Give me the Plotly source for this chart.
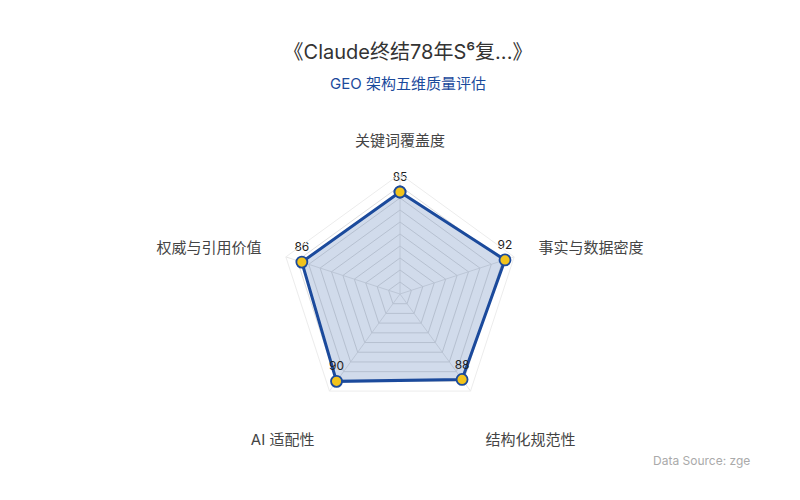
import plotly.graph_objects as go

# five quality dimensions (clockwise from top)
dimensions = ['关键词覆盖度', '事实与数据密度', '结构化规范性', 'AI 适配性', '权威与引用价值']
scores = [85, 92, 88, 90, 86]

title_text = '《Claude终结78年S⁶复...》'
subtitle_text = 'GEO 架构五维质量评估'
source_text = 'Data Source: zge'

BLUE = '#1b4a9c'
GOLD = '#f2c31c'
FONT = 'Inter, "Noto Sans CJK SC", sans-serif'

# close the polygon
r_vals = scores + scores[:1]
theta_vals = dimensions + dimensions[:1]
labels = [str(s) for s in scores] + ['']

# bottom labels sit a line lower than the others
tick_text = ['<br>' + d if d in ('结构化规范性', 'AI 适配性') else d for d in dimensions]

fig = go.Figure()
fig.add_trace(go.Scatterpolar(
    r=r_vals, theta=theta_vals,
    mode='lines+markers+text',
    text=labels, textposition='top center',
    textfont=dict(size=12, color='#222222', family=FONT),
    line=dict(color=BLUE, width=3),
    marker=dict(size=11, color=GOLD, line=dict(color=BLUE, width=1.8)),
    fill='toself', fillcolor='rgba(27,74,156,0.2)',
    hoverinfo='skip', showlegend=False,
))

fig.update_layout(
    width=800, height=500,
    paper_bgcolor='white',
    margin=dict(l=0, r=0, t=0, b=0),
    font=dict(family=FONT),
    title=dict(
        text=title_text, x=0.5, xanchor='center',
        y=0.913, yref='container', yanchor='middle',
        font=dict(size=20, color='#333333'),
    ),
    polar=dict(
        domain=dict(x=[0.34, 0.64], y=[0.188, 0.668]),
        bgcolor='white',
        gridshape='linear',
        radialaxis=dict(range=[0, 100], dtick=10, showticklabels=False, ticks='',
                        showline=False, gridcolor='#dedede', gridwidth=1),
        angularaxis=dict(rotation=90, direction='clockwise',
                         tickmode='array', tickvals=dimensions, ticktext=tick_text,
                         ticks='outside', ticklen=22, tickcolor='rgba(0,0,0,0)',
                         tickfont=dict(size=15, color='#444444'),
                         showline=True, linecolor='#ececec', gridcolor='#e6e6e6'),
    ),
    annotations=[
        dict(text=subtitle_text, x=0.5, y=0.85, xref='paper', yref='paper',
             xanchor='center', yanchor='middle', showarrow=False,
             font=dict(size=15, color='#1b4a9c')),
        dict(text=source_text, x=0.93, y=0.076,
             xref='paper', yref='paper', xanchor='right',
             showarrow=False,
             font=dict(size=12, color='#aaaaaa')),
    ],
)

fig.write_html('out.html')
